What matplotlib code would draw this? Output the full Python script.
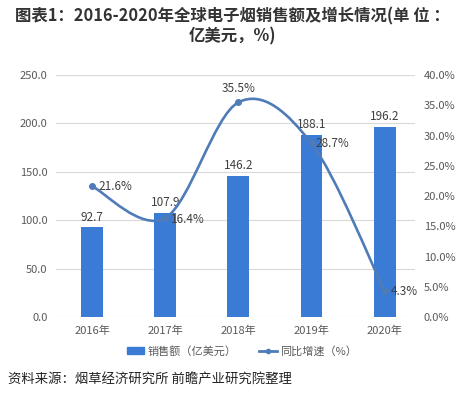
import numpy as np
import matplotlib
matplotlib.use("Agg")
import matplotlib.pyplot as plt
from matplotlib.path import Path
from matplotlib.patches import PathPatch
from matplotlib.lines import Line2D
from matplotlib.patches import Patch

plt.rcParams["font.family"] = ["Noto Sans CJK SC", "DejaVu Sans"]

years = ["2016年", "2017年", "2018年", "2019年", "2020年"]
sales = [92.7, 107.9, 146.2, 188.1, 196.2]
growth = [21.6, 16.4, 35.5, 28.7, 4.3]
left_ticks = [0, 50, 100, 150, 200, 250]
right_ticks = [0, 5, 10, 15, 20, 25, 30, 35, 40]

bar_color = "#3a7bd5"
line_color = "#4f7cb8"
text_color = "#404040"
tick_color = "#595959"

fig = plt.figure(figsize=(4.65, 3.93), dpi=100)
ax = fig.add_axes([0.12, 0.193, 0.773, 0.616])
ax2 = ax.twinx()

x = np.arange(len(years))
ax.bar(x, sales, width=0.3, color=bar_color, zorder=2)
for xi, v in zip(x, sales):
    ax.text(xi, v + 4, f"{v:.1f}", ha="center", va="bottom", fontsize=8.5, color=text_color)

ax.set_ylim(0, 250)
ax.set_yticks(left_ticks)
ax.set_yticklabels([f"{t:.1f}" for t in left_ticks])
ax.set_xlim(-0.5, 4.42)
ax.set_xticks(x)
ax.set_xticklabels(years)
ax.grid(axis="y", color="#d9d9d9", linewidth=0.8, zorder=0)
ax.set_axisbelow(True)
ax.tick_params(length=0, labelsize=8, colors=tick_color, pad=6)
for s in ax.spines.values():
    s.set_visible(False)

ax2.set_ylim(0, 40)
ax2.set_yticks(right_ticks)
ax2.set_yticklabels([f"{t:.1f}%" for t in right_ticks])
ax2.tick_params(length=0, labelsize=8, colors=tick_color, pad=6)
for s in ax2.spines.values():
    s.set_visible(False)

# smoothed line (Excel-like cubic bezier through the points)
pts = np.column_stack([x, growth]).astype(float)
ext = np.vstack([pts[0], pts, pts[-1]])
verts = [tuple(pts[0])]
codes = [Path.MOVETO]
for i in range(len(pts) - 1):
    p_prev, p0, p1, p_next = ext[i], ext[i + 1], ext[i + 2], ext[i + 3]
    c1 = p0 + (p1 - p_prev) / 6
    c2 = p1 - (p_next - p0) / 6
    verts += [tuple(c1), tuple(c2), tuple(p1)]
    codes += [Path.CURVE4] * 3
ax2.add_patch(PathPatch(Path(verts, codes), facecolor="none", edgecolor=line_color,
                        linewidth=1.9, zorder=3))
ax2.plot(x, growth, linestyle="none", marker="o", markersize=4, color=line_color, zorder=4)

offsets = [(0.08, 0, "left", "center"), (0.08, -0.2, "left", "center"),
           (0, 1.2, "center", "bottom"), (0.06, 0, "left", "center"),
           (0.08, 0, "left", "center")]
for xi, v, (dx, dy, ha, va) in zip(x, growth, offsets):
    ax2.text(xi + dx, v + dy, f"{v:.1f}%", ha=ha, va=va, fontsize=8.5, color=text_color, zorder=5)

fig.text(0.5, 0.957, "图表1：2016-2020年全球电子烟销售额及增长情况(单 位 ：", ha="center",
         va="center", fontsize=11.8, fontweight="bold", color="#333333")
fig.text(0.5, 0.907, "亿美元，%)", ha="center", va="center", fontsize=11.8,
         fontweight="bold", color="#333333")

handles = [Patch(color=bar_color), Line2D([0], [0], color=line_color, lw=2, marker="o", markersize=3)]
fig.legend(handles, ["销售额（亿美元）", "同比增速（%）"], loc="center", bbox_to_anchor=(0.52, 0.107),
           ncol=2, frameon=False, fontsize=8, labelcolor=tick_color, handlelength=1.6,
           handleheight=0.5, columnspacing=2, handletextpad=0.3)

fig.text(0.018, 0.033, "资料来源：烟草经济研究所 前瞻产业研究院整理", ha="left", va="center",
         fontsize=9.6, color="#222222")

fig.savefig("out.png", dpi=100)
